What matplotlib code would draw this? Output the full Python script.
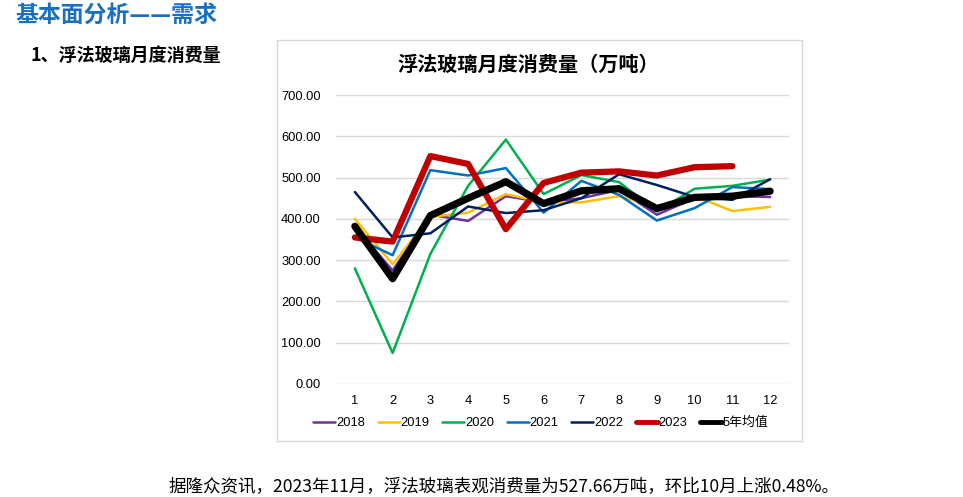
import matplotlib
matplotlib.use("Agg")
import matplotlib.pyplot as plt
from matplotlib.patches import Rectangle

plt.rcParams['font.family'] = ['Liberation Sans', 'Noto Sans CJK SC', 'DejaVu Sans']

months = [1, 2, 3, 4, 5, 6, 7, 8, 9, 10, 11, 12]
month_labels = [str(m) for m in months]

s2018 = [380, 275, 410, 395, 455, 440, 450, 470, 410, 450, 455, 453]
s2019 = [400, 290, 405, 415, 460, 440, 440, 455, 430, 455, 419, 429]
s2020 = [280, 75, 315, 480, 592, 460, 506, 489, 418, 473, 480, 495]
s2021 = [355, 312, 518, 505, 523, 415, 492, 458, 396, 426, 477, 472]
s2022 = [465, 355, 365, 430, 414, 421, 450, 508, 482, 453, 446, 496]
s2023 = [355, 345, 552, 533, 375, 487, 512, 515, 505, 525.14, 527.66]
avg5 = [382, 255, 408, 450, 490, 437, 468, 473, 425, 452, 455, 467]

series = [
    ("2018", s2018, "#7030A0", 1.8),
    ("2019", s2019, "#FFC000", 1.8),
    ("2020", s2020, "#00B050", 1.8),
    ("2021", s2021, "#0070C0", 1.8),
    ("2022", s2022, "#002060", 1.8),
    ("2023", s2023, "#C00000", 4.5),
    ("5年均值", avg5, "#000000", 5.2),
]

yticks = [0, 100, 200, 300, 400, 500, 600, 700]

fig = plt.figure(figsize=(9.63, 4.97), dpi=100)

# chart frame
fig.patches.append(Rectangle((277/963, 1-441/497), (802-277)/963, (441-40)/497,
                             transform=fig.transFigure, fill=False,
                             edgecolor="#d9d9d9", linewidth=1.0))

ax = fig.add_axes([336/963, 1-384/497, (789-336)/963, (384-95)/497])
for name, vals, col, lw in series:
    ax.plot(months[:len(vals)], vals, color=col, linewidth=lw, label=name,
            solid_joinstyle='round', solid_capstyle='round')

ax.set_xlim(0.5, 12.5)
ax.set_ylim(0, 700)
ax.set_yticks(yticks)
ax.set_yticklabels([f"{v:.2f}" for v in yticks])
ax.set_xticks(months)
ax.set_xticklabels(month_labels)
ax.tick_params(length=0, labelsize=9.3, colors="#000000")
ax.tick_params(axis='y', pad=11)
ax.tick_params(axis='x', pad=8)
for sp in ax.spines.values():
    sp.set_visible(False)
ax.grid(axis='y', color="#d9d9d9", linewidth=1.0)
ax.set_axisbelow(True)

handles, labels = ax.get_legend_handles_labels()
leg = fig.legend(handles, labels, loc='center', bbox_to_anchor=(541/963, 1-423/497), ncol=7,
                 frameon=False, handlelength=1.7, handletextpad=0.05,
                 columnspacing=1.0, prop={'family': ['Liberation Sans', 'Noto Sans CJK SC'], 'size': 9.3})
for lh, (_, _, _, lw) in zip(leg.get_lines(), series):
    lh.set_linewidth(min(lw, 3.5))

fig.text(528/963, 1-64/497, "浮法玻璃月度消费量（万吨）", ha='center', va='center',
         fontsize=14.5, family=['Noto Sans CJK SC'], fontweight='bold', color="#000000")

fig.text(15/963, 1-15/497, "基本面分析——需求", ha='left', va='center',
         fontsize=16.5, family=['Noto Sans CJK SC'], fontweight='bold', color="#1a70c0")
fig.text(30/963, 1-55/497, "1、浮法玻璃月度消费量", ha='left', va='center',
         fontsize=13, family=['Noto Sans CJK SC'], fontweight='bold', color="#000000")
fig.text(168/963, 1-487/497, "据隆众资讯，2023年11月，浮法玻璃表观消费量为527.66万吨，环比10月上涨0.48%。",
         ha='left', va='center', fontsize=12.6, family=['Noto Sans CJK SC'], color="#000000")

fig.savefig("out.png", dpi=100)
